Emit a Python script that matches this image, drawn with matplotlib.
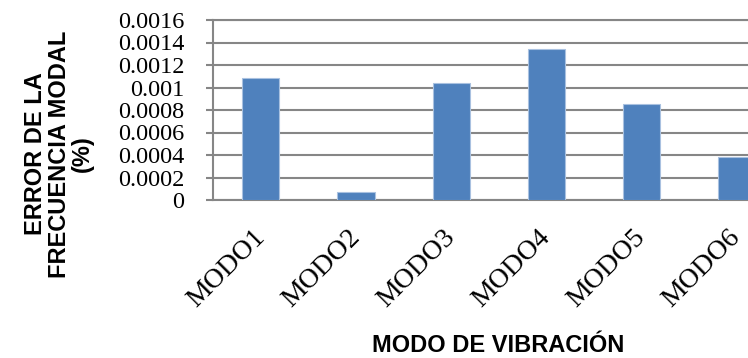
import matplotlib
matplotlib.use("Agg")
import matplotlib.pyplot as plt

categories = ["MODO1", "MODO2", "MODO3", "MODO4", "MODO5", "MODO6"]
values = [0.001085, 0.000068, 0.001043, 0.00134, 0.00085, 0.000385]
y_ticks = [0, 0.0002, 0.0004, 0.0006, 0.0008, 0.001, 0.0012, 0.0014, 0.0016]
y_tick_labels = ["0", "0.0002", "0.0004", "0.0006", "0.0008", "0.001", "0.0012", "0.0014", "0.0016"]
x_label = "MODO DE VIBRACIÓN"
y_label = "ERROR DE LA\nFRECUENCIA MODAL\n(%)"

W, H = 748, 358
fig = plt.figure(figsize=(W / 100, H / 100), dpi=100)
ax = fig.add_axes([213.3 / W, 158 / H, 570.7 / W, 180 / H])

grid_c = "#868686"
x = list(range(len(categories)))
ax.bar(x, values, width=0.39, color="#4F81BD", edgecolor="#a9c1e0", linewidth=0.8, zorder=3)

ax.set_xlim(-0.5, len(categories) - 0.5)
ax.set_ylim(0, 0.0016)
ax.set_yticks(y_ticks, y_tick_labels, fontsize=17.5, fontfamily="Liberation Serif")
ax.set_axisbelow(True)
ax.yaxis.grid(True, color=grid_c, linewidth=1.5)

ax.spines["right"].set_visible(False)
for s in ["left", "bottom", "top"]:
    ax.spines[s].set_color(grid_c)
    ax.spines[s].set_linewidth(1.5)

ax.tick_params(axis="y", length=5, width=1.5, color=grid_c, pad=16)

ax.set_xticks(x, categories, rotation=45, ha="right", va="center",
              rotation_mode="anchor", fontsize=20, fontfamily="Liberation Serif")
ax.tick_params(axis="x", length=0, pad=24)

fig.text(498 / W, (H - 345) / H, x_label, ha="center", va="center",
         fontsize=17, fontweight="bold", fontfamily="Liberation Sans")
fig.text(59 / W, (H - 154) / H, y_label, rotation=90, ha="center", va="center",
         multialignment="center", linespacing=1.0,
         fontsize=17, fontweight="bold", fontfamily="Liberation Sans")

fig.savefig("out.png", dpi=100)
